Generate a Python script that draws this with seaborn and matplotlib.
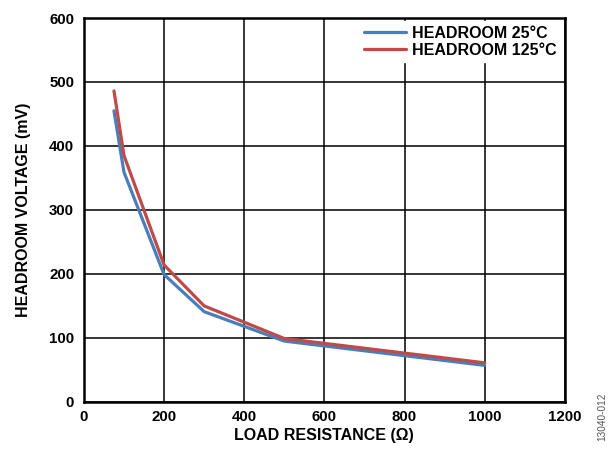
import matplotlib
matplotlib.use("Agg")
import matplotlib.pyplot as plt
import seaborn as sns
import pandas as pd

load_res = [75, 100, 200, 300, 500, 1000]
headroom_25 = [455, 359, 199, 141, 95, 57]
headroom_125 = [486, 385, 214, 150, 99, 61]
series_names = ["HEADROOM 25°C", "HEADROOM 125°C"]
x_ticks = [0, 200, 400, 600, 800, 1000, 1200]
y_ticks = [0, 100, 200, 300, 400, 500, 600]

df = pd.DataFrame({
    "x": load_res * 2,
    "y": headroom_25 + headroom_125,
    "series": [series_names[0]] * len(load_res) + [series_names[1]] * len(load_res),
})

sns.set_theme(style="white")
plt.rcParams["font.family"] = ["Liberation Sans", "DejaVu Sans"]
plt.rcParams["text.color"] = "black"
plt.rcParams["axes.labelcolor"] = "black"

fig = plt.figure(figsize=(6.08, 4.5), dpi=100)
ax = fig.add_axes([0.138, 0.107, 0.791, 0.853])

sns.lineplot(data=df, x="x", y="y", hue="series", hue_order=series_names,
             palette=["#4a7ebb", "#be4b48"], linewidth=2.3, ax=ax,
             sort=False, estimator=None)

ax.set_xlim(0, 1200)
ax.set_ylim(0, 600)
ax.set_xticks(x_ticks)
ax.set_yticks(y_ticks)
ax.set_xticklabels([str(t) for t in x_ticks], fontsize=10.8, fontweight="bold")
ax.set_yticklabels([str(t) for t in y_ticks], fontsize=10.8, fontweight="bold")
ax.grid(True, color="black", linewidth=1.1)
ax.set_axisbelow(True)
for s in ax.spines.values():
    s.set_color("black")
    s.set_linewidth(1.8)
ax.tick_params(axis="x", length=0, pad=6, colors="black")
ax.tick_params(axis="y", length=0, pad=7, colors="black")
ax.set_xlabel("LOAD RESISTANCE (Ω)", fontsize=11.5, fontweight="bold", labelpad=3)
ax.set_ylabel("HEADROOM VOLTAGE (mV)", fontsize=11.5, fontweight="bold", labelpad=13)

leg = ax.legend(loc="upper right", fontsize=11.5, frameon=True, fancybox=False,
                borderaxespad=0.2, handlelength=2.6, labelspacing=0.1,
                handletextpad=0.4, borderpad=0.3)
leg.get_frame().set_facecolor("white")
leg.get_frame().set_edgecolor("white")
leg.get_frame().set_alpha(1)
for t in leg.get_texts():
    t.set_fontweight("bold")

fig.text(0.99, 0.073, "13040-012", rotation=90, fontsize=7.2, color="#555555",
         ha="center", va="center")

fig.savefig("out.png", dpi=100)
